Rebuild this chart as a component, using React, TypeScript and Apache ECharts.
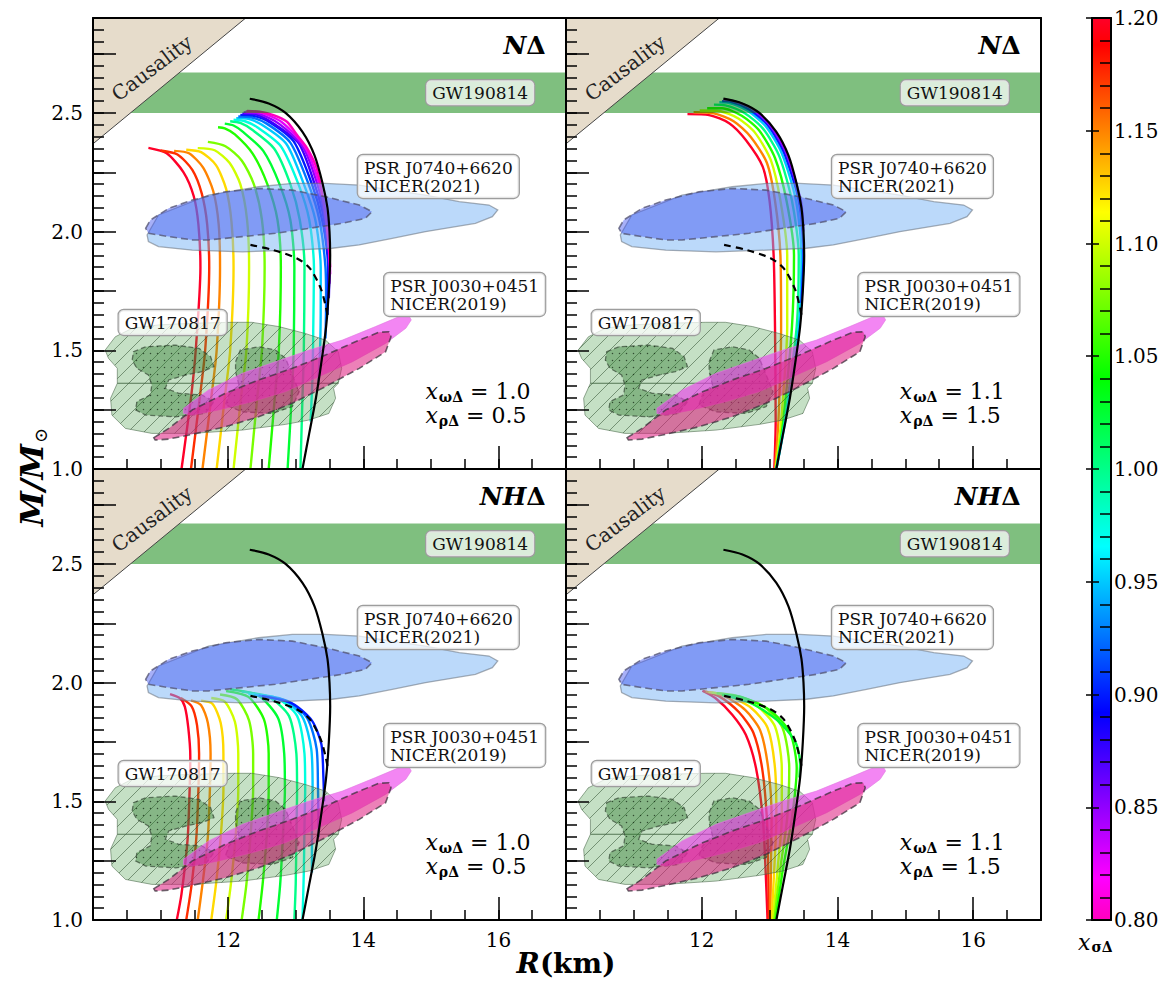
import React, { useEffect, useRef } from 'react';
import * as echarts from 'echarts';

type Pt = [number, number];
type Curve = [number, Pt[]];

const FONT = '"DejaVu Serif", "Liberation Serif", serif';

// ---------- axes ----------
const X_RANGE: Pt = [10, 17];
const Y_RANGE: Pt = [1.0, 2.9];
const X_LABELS = [12, 14, 16];
const Y_LABELS = [1.0, 1.5, 2.0, 2.5];
const CBAR_RANGE: Pt = [0.8, 1.2];

// gist_rainbow colormap stops (t, [r,g,b]) -- colour scale definition
const GIST: [number, number[]][] = [
  [0.0, [1, 0, 0.16]], [0.03, [1, 0, 0]], [0.215, [1, 1, 0]], [0.4, [0, 1, 0]],
  [0.586, [0, 1, 1]], [0.77, [0, 0, 1]], [0.954, [1, 0, 1]], [1.0, [1, 0, 0.75]],
];

// ---------- reference (black) curves ----------
const BLACK_SOLID: Pt[] = [[13.10, 1.0], [13.2, 1.15], [13.3, 1.3], [13.38, 1.45], [13.45, 1.6], [13.49, 1.75], [13.51, 1.9], [13.50, 2.0], [13.47, 2.1], [13.4, 2.2], [13.28, 2.32], [13.1, 2.42], [12.85, 2.5], [12.6, 2.54], [12.32, 2.56]];
const BLACK_DASHED: Pt[] = [[12.33, 1.944], [12.67, 1.922], [13.02, 1.887], [13.21, 1.845], [13.37, 1.761], [13.44, 1.691], [13.47, 1.649]];

// ---------- M-R curves, [x_sigmaDelta, points] ----------
const TL_CURVES: Curve[] = [
  [1.200, [[11.31, 1.0], [11.45, 1.3], [11.52, 1.5], [11.59, 1.85], [11.56, 2.03], [11.49, 2.15], [11.34, 2.25], [11.09, 2.33], [10.82, 2.353]]],
  [1.175, [[11.45, 1.0], [11.58, 1.3], [11.66, 1.5], [11.72, 1.85], [11.69, 2.03], [11.61, 2.16], [11.47, 2.26], [11.25, 2.325], [11.0, 2.342]]],
  [1.150, [[11.62, 1.0], [11.75, 1.3], [11.83, 1.5], [11.88, 1.85], [11.86, 2.03], [11.78, 2.17], [11.63, 2.27], [11.42, 2.33], [11.2, 2.34]]],
  [1.125, [[11.83, 1.0], [11.95, 1.3], [12.03, 1.5], [12.08, 1.85], [12.05, 2.04], [11.97, 2.18], [11.82, 2.28], [11.6, 2.335], [11.38, 2.345]]],
  [1.100, [[12.08, 1.0], [12.19, 1.3], [12.27, 1.5], [12.31, 1.85], [12.28, 2.05], [12.18, 2.2], [12.02, 2.29], [11.8, 2.343], [11.55, 2.352]]],
  [1.075, [[12.33, 1.0], [12.43, 1.3], [12.5, 1.5], [12.54, 1.85], [12.5, 2.05], [12.38, 2.2], [12.2, 2.3], [11.96, 2.36], [11.7, 2.378]]],
  [1.050, [[12.6, 1.0], [12.69, 1.3], [12.75, 1.5], [12.78, 1.85], [12.73, 2.05], [12.58, 2.2], [12.36, 2.33], [12.1, 2.41], [11.95, 2.435], [11.85, 2.44]]],
  [1.025, [[12.88, 1.0], [12.94, 1.3], [12.97, 1.5], [12.98, 1.85], [12.92, 2.05], [12.76, 2.2], [12.52, 2.34], [12.22, 2.42], [12.08, 2.447], [11.95, 2.455]]],
  [1.000, [[13.07, 1.0], [13.1, 1.3], [13.12, 1.5], [13.13, 1.85], [13.06, 2.05], [12.92, 2.2], [12.68, 2.35], [12.35, 2.43], [12.18, 2.458], [12.03, 2.465]]],
  [0.975, [[13.22, 1.2], [13.25, 1.4], [13.26, 1.6], [13.27, 1.85], [13.2, 2.05], [13.04, 2.2], [12.78, 2.36], [12.43, 2.44], [12.25, 2.465], [12.08, 2.472]]],
  [0.950, [[13.33, 1.35], [13.36, 1.5], [13.37, 1.7], [13.37, 1.85], [13.29, 2.05], [13.12, 2.2], [12.86, 2.37], [12.5, 2.45], [12.3, 2.475], [12.12, 2.478]]],
  [0.925, [[13.44, 1.55], [13.45, 1.7], [13.44, 1.85], [13.35, 2.05], [13.19, 2.2], [12.92, 2.375], [12.57, 2.455], [12.34, 2.482], [12.15, 2.485]]],
  [0.900, [[13.47, 1.65], [13.48, 1.8], [13.47, 1.9], [13.39, 2.05], [13.24, 2.2], [12.97, 2.38], [12.62, 2.46], [12.38, 2.488], [12.18, 2.492]]],
  [0.875, [[13.49, 1.72], [13.5, 1.85], [13.42, 2.05], [13.28, 2.2], [13.05, 2.37], [12.7, 2.45], [12.42, 2.493], [12.21, 2.497]]],
  [0.850, [[13.5, 1.78], [13.5, 1.88], [13.44, 2.05], [13.32, 2.2], [13.1, 2.36], [12.75, 2.455], [12.45, 2.497], [12.23, 2.502]]],
  [0.825, [[13.51, 1.82], [13.5, 1.9], [13.46, 2.05], [13.35, 2.2], [13.14, 2.355], [12.8, 2.46], [12.5, 2.5], [12.26, 2.506]]],
  [0.800, [[13.51, 1.85], [13.47, 2.0], [13.41, 2.13], [13.31, 2.267], [13.17, 2.351], [13.02, 2.407], [12.87, 2.463], [12.67, 2.491], [12.47, 2.505], [12.28, 2.508]]],
];

const TR_CURVES: Curve[] = [
  [1.20, [[13.07, 1.0], [13.09, 1.2], [13.08, 1.6], [13.06, 1.9], [13.0, 2.13], [12.9, 2.273], [12.65, 2.386], [12.41, 2.456], [12.11, 2.491], [11.79, 2.495]]],
  [1.15, [[13.08, 1.0], [13.13, 1.2], [13.17, 1.6], [13.16, 1.9], [13.08, 2.13], [12.96, 2.29], [12.72, 2.40], [12.47, 2.465], [12.18, 2.498], [11.88, 2.503]]],
  [1.10, [[13.09, 1.0], [13.17, 1.2], [13.26, 1.6], [13.26, 1.9], [13.16, 2.13], [13.02, 2.30], [12.79, 2.415], [12.54, 2.477], [12.25, 2.508], [11.97, 2.51]]],
  [1.05, [[13.10, 1.0], [13.2, 1.2], [13.33, 1.6], [13.36, 1.9], [13.25, 2.13], [13.08, 2.31], [12.85, 2.425], [12.59, 2.488], [12.3, 2.52], [12.08, 2.52]]],
  [1.00, [[13.10, 1.0], [13.22, 1.2], [13.4, 1.6], [13.43, 1.9], [13.33, 2.13], [13.14, 2.32], [12.9, 2.435], [12.63, 2.5], [12.35, 2.532], [12.18, 2.535]]],
  [0.95, [[13.1, 1.0], [13.23, 1.2], [13.43, 1.6], [13.47, 1.9], [13.39, 2.13], [13.18, 2.33], [12.94, 2.445], [12.67, 2.51], [12.39, 2.543], [12.26, 2.545]]],
  [0.90, [[13.47, 1.7], [13.5, 1.9], [13.43, 2.13], [13.21, 2.335], [12.97, 2.45], [12.7, 2.515], [12.42, 2.548], [12.3, 2.55]]],
  [0.85, [[13.5, 2.0], [13.46, 2.13], [13.24, 2.335], [13.0, 2.45], [12.73, 2.52], [12.45, 2.552], [12.32, 2.556]]],
];

const BL_CURVES: Curve[] = [
  [1.200, [[11.24, 1.0], [11.31, 1.11], [11.40, 1.34], [11.43, 1.55], [11.44, 1.69], [11.41, 1.81], [11.36, 1.898], [11.29, 1.934], [11.14, 1.952]]],
  [1.175, [[11.38, 1.0], [11.46, 1.15], [11.53, 1.35], [11.56, 1.55], [11.57, 1.7], [11.54, 1.82], [11.46, 1.9], [11.3, 1.935]]],
  [1.150, [[11.55, 1.0], [11.62, 1.15], [11.7, 1.35], [11.73, 1.55], [11.74, 1.7], [11.7, 1.83], [11.6, 1.905], [11.45, 1.925]]],
  [1.125, [[11.75, 1.0], [11.82, 1.15], [11.89, 1.35], [11.93, 1.55], [11.93, 1.7], [11.89, 1.83], [11.77, 1.91], [11.6, 1.924]]],
  [1.100, [[11.97, 1.0], [12.04, 1.15], [12.11, 1.35], [12.15, 1.55], [12.15, 1.7], [12.1, 1.835], [11.95, 1.92], [11.75, 1.935]]],
  [1.075, [[12.2, 1.0], [12.27, 1.15], [12.33, 1.35], [12.37, 1.55], [12.37, 1.7], [12.31, 1.84], [12.13, 1.93], [11.88, 1.95]]],
  [1.050, [[12.45, 1.0], [12.51, 1.15], [12.57, 1.35], [12.6, 1.55], [12.6, 1.7], [12.53, 1.845], [12.3, 1.94], [11.97, 1.965]]],
  [1.025, [[12.72, 1.0], [12.77, 1.15], [12.81, 1.35], [12.84, 1.55], [12.83, 1.7], [12.74, 1.85], [12.45, 1.945], [12.03, 1.972]]],
  [1.000, [[12.98, 1.0], [13.0, 1.15], [13.01, 1.35], [13.02, 1.55], [13.01, 1.7], [12.9, 1.86], [12.6, 1.94], [12.2, 1.962]]],
  [0.975, [[13.1, 1.0], [13.12, 1.2], [13.13, 1.4], [13.14, 1.55], [13.13, 1.7], [13.02, 1.86], [12.72, 1.935], [12.3, 1.952]]],
  [0.950, [[13.24, 1.2], [13.24, 1.4], [13.25, 1.55], [13.23, 1.72], [13.1, 1.855], [12.8, 1.93], [12.38, 1.948]]],
  [0.925, [[13.34, 1.35], [13.33, 1.55], [13.31, 1.72], [13.17, 1.85], [12.88, 1.922], [12.45, 1.945]]],
  [0.900, [[13.42, 1.5], [13.41, 1.6], [13.38, 1.74], [13.24, 1.84], [12.95, 1.912], [12.5, 1.943]]],
];

const BR_CURVES: Curve[] = [
  [1.200, [[12.97, 1.0], [12.94, 1.22], [12.9, 1.43], [12.8, 1.64], [12.65, 1.78], [12.45, 1.865], [12.2, 1.935], [12.01, 1.966]]],
  [1.175, [[12.99, 1.0], [12.98, 1.22], [12.96, 1.43], [12.89, 1.64], [12.76, 1.79], [12.55, 1.875], [12.27, 1.94], [12.03, 1.964]]],
  [1.150, [[13.01, 1.0], [13.02, 1.22], [13.03, 1.43], [12.98, 1.64], [12.86, 1.8], [12.64, 1.885], [12.33, 1.944], [12.06, 1.962]]],
  [1.125, [[13.03, 1.0], [13.07, 1.22], [13.1, 1.43], [13.08, 1.64], [12.97, 1.81], [12.73, 1.893], [12.38, 1.946], [12.1, 1.96]]],
  [1.100, [[13.05, 1.0], [13.12, 1.22], [13.18, 1.43], [13.18, 1.64], [13.08, 1.815], [12.82, 1.9], [12.44, 1.946], [12.15, 1.958]]],
  [1.075, [[13.07, 1.0], [13.16, 1.22], [13.26, 1.43], [13.29, 1.64], [13.19, 1.81], [12.91, 1.9], [12.5, 1.945], [12.22, 1.955]]],
  [1.050, [[13.09, 1.0], [13.2, 1.22], [13.33, 1.43], [13.4, 1.64], [13.3, 1.79], [13.0, 1.885], [12.58, 1.94], [12.3, 1.948]]],
  [1.025, [[13.44, 1.6], [13.45, 1.66], [13.38, 1.75], [13.12, 1.84], [12.75, 1.91], [12.35, 1.946]]],
];

// ---------- observational constraint regions ----------
const CAUSALITY: Pt[] = [[10, 2.9], [12.26, 2.9], [10, 2.37]];
const GW190814_BAND: Pt = [2.50, 2.67];
const J0740_OUTER: Pt[] = [[10.80, 1.986], [10.97, 2.070], [11.71, 2.154], [12.45, 2.189], [12.95, 2.203], [13.44, 2.203], [13.94, 2.196], [14.92, 2.154], [15.42, 2.126], [15.86, 2.112], [15.99, 2.091], [15.91, 2.063], [15.66, 2.035], [14.92, 2.000], [14.43, 1.972], [13.94, 1.944], [13.54, 1.930], [12.95, 1.922], [12.21, 1.915], [11.47, 1.922], [10.97, 1.937], [10.82, 1.958]];
const J0740_INNER: Pt[] = [[10.78, 2.014], [10.85, 2.049], [11.12, 2.098], [11.47, 2.133], [11.96, 2.168], [12.45, 2.182], [12.95, 2.175], [13.44, 2.147], [13.94, 2.112], [14.13, 2.084], [14.03, 2.056], [13.69, 2.035], [13.20, 2.014], [12.70, 1.993], [12.21, 1.979], [11.71, 1.965], [11.47, 1.965], [11.12, 1.979], [10.82, 1.993]];
const J0030_A: Pt[] = [[11.34, 1.256], [11.71, 1.333], [12.21, 1.403], [12.70, 1.452], [13.20, 1.501], [13.69, 1.543], [14.18, 1.600], [14.53, 1.642], [14.68, 1.644], [14.71, 1.628], [14.63, 1.593], [14.33, 1.529], [13.84, 1.452], [13.34, 1.389], [12.85, 1.326], [12.36, 1.284], [11.86, 1.249], [11.47, 1.227], [11.34, 1.234]];
const J0030_B: Pt[] = [[10.90, 1.132], [11.12, 1.171], [11.47, 1.249], [11.96, 1.319], [12.45, 1.375], [12.95, 1.424], [13.44, 1.480], [13.94, 1.543], [14.23, 1.576], [14.38, 1.578], [14.41, 1.557], [14.33, 1.494], [13.94, 1.424], [13.44, 1.347], [12.95, 1.277], [12.45, 1.220], [11.96, 1.178], [11.47, 1.146], [11.12, 1.126], [10.92, 1.122]];
const GW170817_UPPER: Pt[] = [[10.18, 1.501], [10.33, 1.557], [10.58, 1.593], [10.97, 1.607], [11.46, 1.614], [12.06, 1.618], [12.35, 1.618], [12.75, 1.600], [13.14, 1.571], [13.44, 1.543], [13.63, 1.494], [13.68, 1.424], [13.63, 1.361], [10.36, 1.361], [10.36, 1.424], [10.23, 1.466]];
const GW170817_LOWER: Pt[] = [[10.36, 1.361], [13.63, 1.361], [13.56, 1.340], [13.59, 1.298], [13.49, 1.234], [13.19, 1.206], [12.85, 1.188], [12.21, 1.164], [11.46, 1.150], [10.87, 1.150], [10.48, 1.171], [10.28, 1.227], [10.26, 1.298]];
const GW170817_CORE_L: Pt[] = [[10.60, 1.494], [10.78, 1.515], [11.22, 1.522], [11.57, 1.508], [11.74, 1.473], [11.79, 1.431], [11.61, 1.410], [11.37, 1.396], [11.12, 1.375], [11.07, 1.340], [11.27, 1.319], [11.61, 1.312], [11.79, 1.284], [11.66, 1.234], [11.22, 1.220], [10.78, 1.227], [10.63, 1.249], [10.65, 1.284], [10.85, 1.312], [10.87, 1.354], [10.82, 1.396], [10.65, 1.424], [10.58, 1.459]];
const GW170817_CORE_R: Pt[] = [[12.11, 1.452], [12.18, 1.501], [12.45, 1.515], [12.70, 1.501], [12.85, 1.466], [12.95, 1.396], [13.05, 1.326], [12.95, 1.263], [12.65, 1.234], [12.21, 1.241], [11.96, 1.270], [12.01, 1.312], [12.16, 1.354], [12.11, 1.410]];

// ---------- panel texts ----------
const PANEL_TAGS: [string, string][] = [['N', 'Δ'], ['N', 'Δ'], ['NH', 'Δ'], ['NH', 'Δ']];
const X_OMEGA = ['1.0', '1.1', '1.0', '1.1'];
const X_RHO = ['0.5', '1.5', '0.5', '1.5'];
const PANEL_CURVES = [TL_CURVES, TR_CURVES, BL_CURVES, BR_CURVES];
const CURVE_WIDTH = [2.4, 2.4, 2.4, 2.4];

function cmap(v: number): string {
  const t = Math.min(1, Math.max(0, (CBAR_RANGE[1] - v) / (CBAR_RANGE[1] - CBAR_RANGE[0])));
  for (let i = 1; i < GIST.length; i++) {
    const [t1, c1] = GIST[i];
    const [t0, c0] = GIST[i - 1];
    if (t <= t1) {
      const f = (t - t0) / (t1 - t0);
      const c = c0.map((a, j) => Math.round(255 * (a + f * (c1[j] - a))));
      return `rgb(${c[0]},${c[1]},${c[2]})`;
    }
  }
  return 'rgb(255,0,191)';
}

function makePattern(kind: 'hatch' | 'dots') {
  const s = kind === 'hatch' ? 16 : 7;
  const cv = document.createElement('canvas');
  cv.width = s; cv.height = s;
  const ctx = cv.getContext('2d')!;
  if (kind === 'hatch') {
    ctx.strokeStyle = 'rgba(50,80,50,0.55)';
    ctx.lineWidth = 1;
    ctx.beginPath();
    ctx.moveTo(-2, s + 2); ctx.lineTo(s + 2, -2);
    ctx.moveTo(-2, 2); ctx.lineTo(2, -2);
    ctx.moveTo(s - 2, s + 2); ctx.lineTo(s + 2, s - 2);
    ctx.stroke();
  } else {
    ctx.fillStyle = 'rgba(20,40,20,0.75)';
    ctx.beginPath();
    ctx.arc(3.5, 3.5, 0.75, 0, Math.PI * 2);
    ctx.fill();
  }
  return { image: cv.toDataURL(), repeat: 'repeat', imageWidth: s, imageHeight: s };
}

function buildOption() {
  const hatch = makePattern('hatch');
  const dots = makePattern('dots');
  const axisLine = { color: '#000', width: 2 };
  const tickStyle = { color: '#000', width: 1.5 };
  const lblStyle = { color: '#000', fontFamily: FONT, fontSize: 20 };

  const grids = [
    { left: 93, top: 18, width: 473, height: 451 },
    { left: 566, top: 18, width: 475, height: 451 },
    { left: 93, top: 469, width: 473, height: 451 },
    { left: 566, top: 469, width: 475, height: 451 },
    { left: 1092, top: 18, width: 19, height: 902 },
  ];
  const xAxes: any[] = [];
  const yAxes: any[] = [];
  for (let p = 0; p < 4; p++) {
    const showX = p >= 2;
    const showY = p % 2 === 0;
    const base = { gridIndex: p, type: 'value', min: X_RANGE[0], max: X_RANGE[1], z: 10, splitLine: { show: false } };
    xAxes.push({ ...base, interval: 2, position: 'bottom', axisLine: { show: true, onZero: false, lineStyle: axisLine },
      axisTick: { show: true, inside: true, length: 23, lineStyle: tickStyle },
      axisLabel: { show: showX, margin: 10, ...lblStyle, formatter: (v: number) => (X_LABELS.includes(v) ? String(v) : '') } });
    xAxes.push({ ...base, interval: 0.5, position: 'bottom', axisLine: { show: false, onZero: false },
      axisTick: { show: true, inside: true, length: 10, lineStyle: tickStyle }, axisLabel: { show: false } });
    xAxes.push({ ...base, position: 'top', axisLine: { show: true, onZero: false, lineStyle: axisLine }, axisTick: { show: false }, axisLabel: { show: false } });
    const ybase = { gridIndex: p, type: 'value', min: Y_RANGE[0], max: Y_RANGE[1], z: 10, splitLine: { show: false } };
    yAxes.push({ ...ybase, interval: 0.25, position: 'left', axisLine: { show: true, onZero: false, lineStyle: axisLine },
      axisTick: { show: true, inside: true, length: 23, lineStyle: tickStyle },
      axisLabel: { show: showY, margin: 10, ...lblStyle, formatter: (v: number) => (Y_LABELS.some((l) => Math.abs(l - v) < 1e-6) ? v.toFixed(1) : '') } });
    yAxes.push({ ...ybase, interval: 0.05, position: 'left', axisLine: { show: false, onZero: false },
      axisTick: { show: true, inside: true, length: 11, lineStyle: tickStyle }, axisLabel: { show: false } });
    yAxes.push({ ...ybase, position: 'right', axisLine: { show: true, onZero: false, lineStyle: axisLine }, axisTick: { show: false }, axisLabel: { show: false } });
  }
  // colorbar axes
  xAxes.push({ gridIndex: 4, type: 'value', min: 0, max: 1, position: 'bottom', z: 10, axisLine: { show: true, onZero: false, lineStyle: axisLine }, axisTick: { show: false }, axisLabel: { show: false }, splitLine: { show: false } });
  xAxes.push({ gridIndex: 4, type: 'value', min: 0, max: 1, position: 'top', z: 10, axisLine: { show: true, onZero: false, lineStyle: axisLine }, axisTick: { show: false }, axisLabel: { show: false }, splitLine: { show: false } });
  const cb = { gridIndex: 4, type: 'value', min: CBAR_RANGE[0], max: CBAR_RANGE[1], interval: 0.05, z: 10, splitLine: { show: false } };
  yAxes.push({ ...cb, position: 'right', axisLine: { show: true, onZero: false, lineStyle: axisLine },
    axisTick: { show: false, inside: true }, minorTick: { show: true, splitNumber: 5, length: 11, lineStyle: tickStyle },
    axisLabel: { show: true, margin: 3, ...lblStyle, formatter: (v: number) => v.toFixed(2) } });
  yAxes.push({ ...cb, position: 'left', axisLine: { show: true, onZero: false, lineStyle: axisLine },
    axisTick: { show: true, inside: true, length: 7, lineStyle: tickStyle }, axisLabel: { show: false } });
  yAxes.push({ ...cb, position: 'left', axisLine: { show: false, onZero: false },
    axisTick: { show: true, inside: false, length: 6, lineStyle: tickStyle }, axisLabel: { show: false } });

  const series: any[] = [];
  const poly = (p: number, pts: Pt[], style: any, z: number, overlay?: any) => ({
    type: 'custom', xAxisIndex: 3 * p, yAxisIndex: 3 * p, z, silent: true,
    data: [[X_RANGE[0], Y_RANGE[0]]],
    renderItem: (_params: any, api: any) => {
      const points = pts.map((q) => api.coord(q));
      const children: any[] = [{ type: 'polygon', shape: { points }, style }];
      if (overlay) children.push({ type: 'polygon', shape: { points }, style: overlay });
      return { type: 'group', children };
    },
  });

  for (let p = 0; p < 4; p++) {
    // coloured M-R curves
    for (const [v, pts] of PANEL_CURVES[p]) {
      series.push({ type: 'line', xAxisIndex: 3 * p, yAxisIndex: 3 * p, data: pts, showSymbol: false, symbol: 'none',
        smooth: 0.25, silent: true, z: 2, lineStyle: { color: cmap(v), width: CURVE_WIDTH[p] } });
    }
    // regions
    const gwStyle = { fill: 'rgba(80,160,80,0.33)', stroke: 'rgba(70,100,70,0.55)', lineWidth: 1 };
    const hatchStyle = { fill: hatch, stroke: 'none' };
    series.push(poly(p, GW170817_UPPER, gwStyle, 3, hatchStyle));
    series.push(poly(p, GW170817_LOWER, gwStyle, 3, hatchStyle));
    const coreStyle = { fill: 'rgba(40,120,40,0.4)', stroke: 'rgba(60,80,60,0.75)', lineWidth: 1.3, lineDash: [5, 3] };
    series.push(poly(p, GW170817_CORE_L, coreStyle, 3, { fill: dots, stroke: 'none' }));
    series.push(poly(p, GW170817_CORE_R, coreStyle, 3, { fill: dots, stroke: 'none' }));
    series.push(poly(p, J0030_A, { fill: 'rgba(236,60,236,0.62)', stroke: 'rgba(225,120,225,0.6)', lineWidth: 1 }, 3));
    series.push(poly(p, J0030_B, { fill: 'rgba(222,25,125,0.55)', stroke: 'rgba(60,50,60,0.75)', lineWidth: 1.6, lineDash: [7, 4] }, 3));
    series.push(poly(p, J0740_OUTER, { fill: 'rgba(120,180,245,0.5)', stroke: 'rgba(100,110,120,0.55)', lineWidth: 1.3 }, 3));
    series.push(poly(p, J0740_INNER, { fill: 'rgba(60,80,240,0.45)', stroke: 'rgba(80,80,110,0.75)', lineWidth: 1.6, lineDash: [7, 4] }, 3));
    series.push(poly(p, [[X_RANGE[0], GW190814_BAND[0]], [X_RANGE[1], GW190814_BAND[0]], [X_RANGE[1], GW190814_BAND[1]], [X_RANGE[0], GW190814_BAND[1]]],
      { fill: 'rgba(0,128,0,0.5)', stroke: 'none' }, 3));
    // reference curves
    series.push({ type: 'line', xAxisIndex: 3 * p, yAxisIndex: 3 * p, data: BLACK_SOLID, showSymbol: false, symbol: 'none',
      smooth: 0.3, silent: true, z: 4, lineStyle: { color: '#000', width: 2.2 } });
    series.push({ type: 'line', xAxisIndex: 3 * p, yAxisIndex: 3 * p, data: BLACK_DASHED, showSymbol: false, symbol: 'none',
      smooth: 0.3, silent: true, z: 4, lineStyle: { color: '#000', width: 2.2, type: [7, 5] } });
    // causality
    series.push(poly(p, CAUSALITY, { fill: '#e6dccb', stroke: '#444', lineWidth: 1 }, 5));
    // annotations
    series.push({
      type: 'custom', xAxisIndex: 3 * p, yAxisIndex: 3 * p, z: 7, silent: true, data: [[X_RANGE[0], Y_RANGE[0]]],
      renderItem: (_params: any, api: any) => {
        const c = (q: Pt) => api.coord(q);
        const box = (text: string, align: string, va: string) => ({
          text, font: `17px ${FONT}`, fill: '#111', align, verticalAlign: va, lineHeight: 18,
          backgroundColor: 'rgba(255,255,255,0.72)', borderColor: '#9d9d9d', borderWidth: 1.2, borderRadius: 5, padding: [4, 6, 3, 6],
        });
        const ch: any[] = [];
        const gw = c([15.73, 2.585]);
        ch.push({ type: 'text', x: gw[0], y: gw[1], style: box('GW190814', 'center', 'middle') });
        const a = c([13.92, 2.323]);
        ch.push({ type: 'text', x: a[0], y: a[1], style: box('PSR J0740+6620\nNICER(2021)', 'left', 'top') });
        const b = c([14.31, 1.826]);
        ch.push({ type: 'text', x: b[0], y: b[1], style: box('PSR J0030+0451\nNICER(2019)', 'left', 'top') });
        const g = c([10.38, 1.670]);
        ch.push({ type: 'text', x: g[0], y: g[1], style: box('GW170817', 'left', 'top') });
        const cs = c([10.87, 2.689]);
        ch.push({ type: 'text', x: cs[0], y: cs[1], rotation: (37 * Math.PI) / 180,
          style: { text: 'Causality', font: `20px ${FONT}`, fill: '#222', align: 'center', verticalAlign: 'middle' } });
        const tg = c([16.70, 2.786]);
        ch.push({ type: 'text', x: tg[0], y: tg[1], style: {
          text: `{i|${PANEL_TAGS[p][0]}}{b|${PANEL_TAGS[p][1]}}`, align: 'right', verticalAlign: 'middle', fill: '#000',
          rich: { i: { font: `italic bold 25px ${FONT}`, fill: '#000' }, b: { font: `bold 25px ${FONT}`, fill: '#000' } } } });
        const pr = c([14.92, 1.2755]);
        ch.push({ type: 'text', x: pr[0], y: pr[1], style: {
          text: `{x|x}{s|ωΔ}{n| = ${X_OMEGA[p]}}\n{x|x}{s|ρΔ}{n| = ${X_RHO[p]}}`,
          align: 'left', verticalAlign: 'middle', fill: '#000',
          rich: {
            x: { font: `italic 22px ${FONT}`, lineHeight: 24, fill: '#000' },
            s: { font: `bold 14px ${FONT}`, lineHeight: 24, padding: [10, 0, 0, 1], fill: '#000' },
            n: { font: `22px ${FONT}`, lineHeight: 24, fill: '#000' },
          } } });
        return { type: 'group', children: ch };
      },
    });
  }

  // colorbar
  const stops = GIST.map(([t, c]) => ({ offset: t, color: `rgb(${c.map((a) => Math.round(a * 255)).join(',')})` }));
  series.push({
    type: 'custom', xAxisIndex: 12, yAxisIndex: 12, z: 2, silent: true, data: [[0, CBAR_RANGE[0]]],
    renderItem: (_params: any, api: any) => {
      const tl = api.coord([0, CBAR_RANGE[1]]);
      const br = api.coord([1, CBAR_RANGE[0]]);
      return { type: 'rect', shape: { x: tl[0], y: tl[1], width: br[0] - tl[0], height: br[1] - tl[1] },
        style: { fill: { type: 'linear', x: 0, y: 0, x2: 0, y2: 1, colorStops: stops } } };
    },
  });

  const graphic = [
    { type: 'group', x: 32, y: 472, rotation: Math.PI / 2, children: [
      { type: 'text', x: 28, y: 0, style: { text: 'M/M', font: `italic bold 32px ${FONT}`, fill: '#000', align: 'right', verticalAlign: 'middle' } },
      { type: 'text', x: 29, y: 8, style: { text: '⊙', font: `18px ${FONT}`, fill: '#000', align: 'left', verticalAlign: 'middle' } },
    ] },
    { type: 'text', x: 566, y: 963, style: { text: '{a|R}{b|(km)}', align: 'center', verticalAlign: 'middle', fill: '#000',
      rich: { a: { font: `italic bold 28px ${FONT}`, fill: '#000' }, b: { font: `bold 28px ${FONT}`, fill: '#000' } } } },
    { type: 'text', x: 1078, y: 942, style: { text: '{x|x}{s|σΔ}', align: 'left', verticalAlign: 'middle', fill: '#000',
      rich: { x: { font: `italic 22px ${FONT}`, lineHeight: 22, fill: '#000' }, s: { font: `bold 14px ${FONT}`, lineHeight: 22, padding: [10, 0, 0, 1], fill: '#000' } } } },
  ];

  return {
    animation: false,
    backgroundColor: '#fff',
    textStyle: { fontFamily: FONT },
    grid: grids,
    xAxis: xAxes,
    yAxis: yAxes,
    series,
    graphic,
  };
}

export default function App() {
  const ref = useRef<HTMLDivElement>(null);
  useEffect(() => {
    if (!ref.current) return;
    const chart = echarts.init(ref.current, undefined, { renderer: 'svg' });
    chart.setOption(buildOption() as any);
    return () => chart.dispose();
  }, []);
  return <div ref={ref} style={{ position: 'fixed', left: 0, top: 0, width: 1165, height: 982, background: '#fff' }} />;
}
